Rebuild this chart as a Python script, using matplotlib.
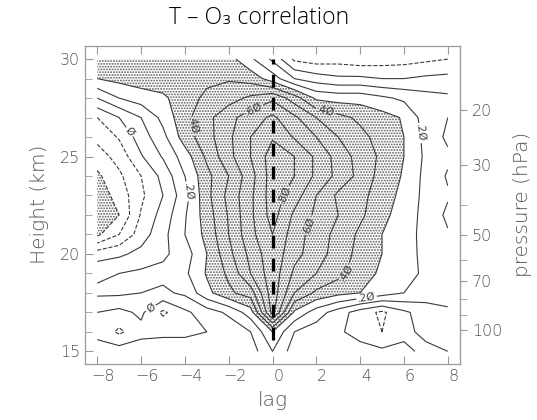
import numpy as np
import matplotlib
matplotlib.use("Agg")
import matplotlib.pyplot as plt
from matplotlib.transforms import ScaledTranslation

# ---------------- data ----------------
lags = [-8, -7, -6, -5, -4, -3, -2, -1, 0, 1, 2, 3, 4, 5, 6, 7, 8]
heights = [15, 16, 17, 18, 19, 20, 21, 22, 23, 24, 25, 26, 27, 28, 29, 30]
corr = [
    [0.03, 0.05, 0.05, 0.05, 0.05, 0.05, 0.05, 0.05, 0.20, 0.05, 0.05, 0.03, 0.05, 0.02, 0.02, -0.02, 0.00],     # 15
    [-0.02, -0.12, -0.03, -0.02, -0.02, 0.00, 0.03, 0.10, 0.30, 0.10, 0.05, 0.02, -0.05, -0.10, -0.02, 0.02, 0.05],  # 16
    [0.00, -0.03, 0.02, -0.12, -0.02, 0.05, 0.12, 0.25, 0.74, 0.28, 0.15, 0.05, -0.05, -0.12, -0.02, 0.05, 0.08],  # 17
    [0.12, 0.12, 0.10, 0.08, 0.12, 0.27, 0.38, 0.45, 0.76, 0.50, 0.38, 0.33, 0.30, 0.25, 0.20, 0.15, 0.15],       # 18
    [0.08, 0.10, 0.12, 0.13, 0.18, 0.31, 0.42, 0.60, 0.76, 0.58, 0.50, 0.43, 0.35, 0.28, 0.22, 0.19, 0.14],       # 19
    [-0.05, -0.02, 0.03, 0.08, 0.15, 0.30, 0.47, 0.63, 0.77, 0.63, 0.55, 0.45, 0.37, 0.30, 0.23, 0.18, 0.10],     # 20
    [-0.32, -0.20, -0.05, 0.07, 0.20, 0.33, 0.50, 0.67, 0.80, 0.65, 0.55, 0.47, 0.38, 0.30, 0.24, 0.17, 0.11],    # 21
    [-0.38, -0.30, -0.09, 0.04, 0.19, 0.35, 0.51, 0.68, 0.84, 0.68, 0.58, 0.50, 0.42, 0.33, 0.25, 0.17, 0.08],    # 22
    [-0.36, -0.26, -0.12, 0.00, 0.16, 0.37, 0.53, 0.68, 0.85, 0.75, 0.60, 0.48, 0.43, 0.35, 0.27, 0.17, 0.11],    # 23
    [-0.32, -0.22, -0.10, 0.03, 0.20, 0.37, 0.50, 0.66, 0.85, 0.80, 0.68, 0.57, 0.47, 0.36, 0.29, 0.17, 0.09],    # 24
    [-0.25, -0.16, -0.01, 0.11, 0.25, 0.42, 0.57, 0.70, 0.85, 0.80, 0.68, 0.56, 0.46, 0.38, 0.30, 0.18, 0.12],    # 25
    [-0.17, -0.09, 0.05, 0.17, 0.35, 0.46, 0.58, 0.70, 0.79, 0.69, 0.60, 0.50, 0.43, 0.36, 0.30, 0.17, 0.08],     # 26
    [-0.10, 0.00, 0.10, 0.23, 0.37, 0.47, 0.57, 0.65, 0.72, 0.62, 0.50, 0.43, 0.38, 0.34, 0.29, 0.15, 0.10],      # 27
    [0.10, 0.20, 0.25, 0.28, 0.36, 0.42, 0.46, 0.52, 0.58, 0.45, 0.28, 0.26, 0.26, 0.22, 0.18, 0.14, 0.12],       # 28
    [0.30, 0.33, 0.35, 0.36, 0.37, 0.38, 0.39, 0.36, 0.25, 0.10, 0.05, 0.02, 0.02, 0.00, 0.00, 0.02, 0.03],       # 29
    [0.38, 0.40, 0.40, 0.38, 0.40, 0.37, 0.34, 0.22, 0.08, -0.12, -0.15, -0.14, -0.16, -0.15, -0.14, -0.12, -0.10],  # 30
]
neg_levels = [-0.4, -0.3, -0.2, -0.1]
pos_plain_levels = [0.1, 0.3, 0.5, 0.7, 0.9]
pos_labelled_levels = [0.0, 0.2, 0.4, 0.6, 0.8]
label_strings = ["Ø", ".2Ø", ".4Ø", ".6Ø", ".8Ø"]
signif = 0.3
xtick_vals = [-8, -6, -4, -2, 0, 2, 4, 6, 8]
ytick_vals = [15, 20, 25, 30]
p_major = [20, 30, 50, 70, 100]
p_minor = [40, 60, 80, 90]

# ---------------- figure ----------------
plt.rcParams['hatch.color'] = '#5a5a5a'
plt.rcParams['hatch.linewidth'] = 0.9
fig = plt.figure(figsize=(5.37, 4.2), dpi=100)
ax = fig.add_axes([85/537, 1-364/420, (460-85)/537, (364-45.5)/420])

X, Y = np.meshgrid(lags, heights)
Z = np.array(corr)

ax.contourf(X, Y, Z, levels=[-5, -signif, signif, 5], colors='none',
            hatches=['......', None, '......'])
line_col = '#3a3a3a'
ax.contour(X, Y, Z, levels=neg_levels, colors=line_col, linewidths=0.8,
           linestyles='dashed')
ax.contour(X, Y, Z, levels=pos_plain_levels, colors=line_col, linewidths=0.8,
           linestyles='solid')
cl = ax.contour(X, Y, Z, levels=pos_labelled_levels, colors=line_col, linewidths=0.8,
                linestyles='solid')

fmt = {lv: s for lv, s in zip(cl.levels, label_strings)}
label_spots = [(-6.6, 26.2), (-3.9, 23.2), (-3.5, 26.6), (-0.8, 27.3), (2.5, 27.6),
               (6.7, 26.2), (0.45, 23.1), (2.4, 21.2), (3.5, 19.0), (4.3, 17.7), (-5.6, 17.3)]
ax.clabel(cl, fmt=fmt, fontsize=7.5, colors=line_col,
          manual=label_spots, inline=True, inline_spacing=2)

# dashed lag-0 line
ax.plot([0, 0], [15.6, 30], color='black', lw=2.3, dashes=(4, 3.2), solid_capstyle='butt')

ax.set_xlim(-8.56, 8.56)
ax.set_ylim(14.35, 30.7)

frame_col = '#9a9a9a'
txt_col = '#555555'
fam = ['DejaVu Sans']
for s in ax.spines.values():
    s.set_color(frame_col)
    s.set_linewidth(0.9)

ax.set_xticks(xtick_vals)
ax.set_yticks(ytick_vals)
ax.set_yticks(np.arange(15, 31, 1), minor=True)
ax.tick_params(axis='both', which='both', direction='in', color=frame_col,
               labelcolor=txt_col, labelsize=11.5, top=True, right=False)
ax.tick_params(which='major', length=6)
ax.tick_params(which='minor', length=5)
for lbl in ax.get_xticklabels() + ax.get_yticklabels():
    lbl.set_family(fam)
    lbl.set_fontweight('light')
for lbl in ax.get_xticklabels():
    lbl.set_transform(lbl.get_transform() + ScaledTranslation(6/100, 0, fig.dpi_scale_trans))

ax.set_xlabel('lag', fontsize=14.5, color=txt_col, family=fam, fontweight='light', labelpad=5)
ax.set_ylabel('Height (km)', fontsize=14.5, color=txt_col, family=fam, fontweight='light',
              labelpad=8)

sec = ax.secondary_yaxis('right', functions=(lambda z: 1000*np.exp(-np.asarray(z)/7.0),
                                             lambda p: 7.0*np.log(1000/np.asarray(p))))
sec.set_yticks(p_major)
sec.set_yticklabels([str(p) for p in p_major])
sec.set_yticks(p_minor, minor=True)
sec.yaxis.set_minor_formatter(matplotlib.ticker.NullFormatter())
sec.tick_params(axis='y', which='both', direction='out', color=frame_col, length=5,
                labelcolor=txt_col, labelsize=11.5)
for lbl in sec.get_yticklabels():
    lbl.set_family(fam)
    lbl.set_fontweight('light')
sec.spines['right'].set_color(frame_col)
sec.set_ylabel('pressure (hPa)', fontsize=14.5, color=txt_col, family=fam, fontweight='light',
               labelpad=8)

fig.text(0.482, 0.957, 'T – O₃ correlation', ha='center', va='center', fontsize=16.5,
         family=['Open Sans', 'DejaVu Sans'], fontweight='light', color='black')

fig.savefig('out.png', dpi=100)
